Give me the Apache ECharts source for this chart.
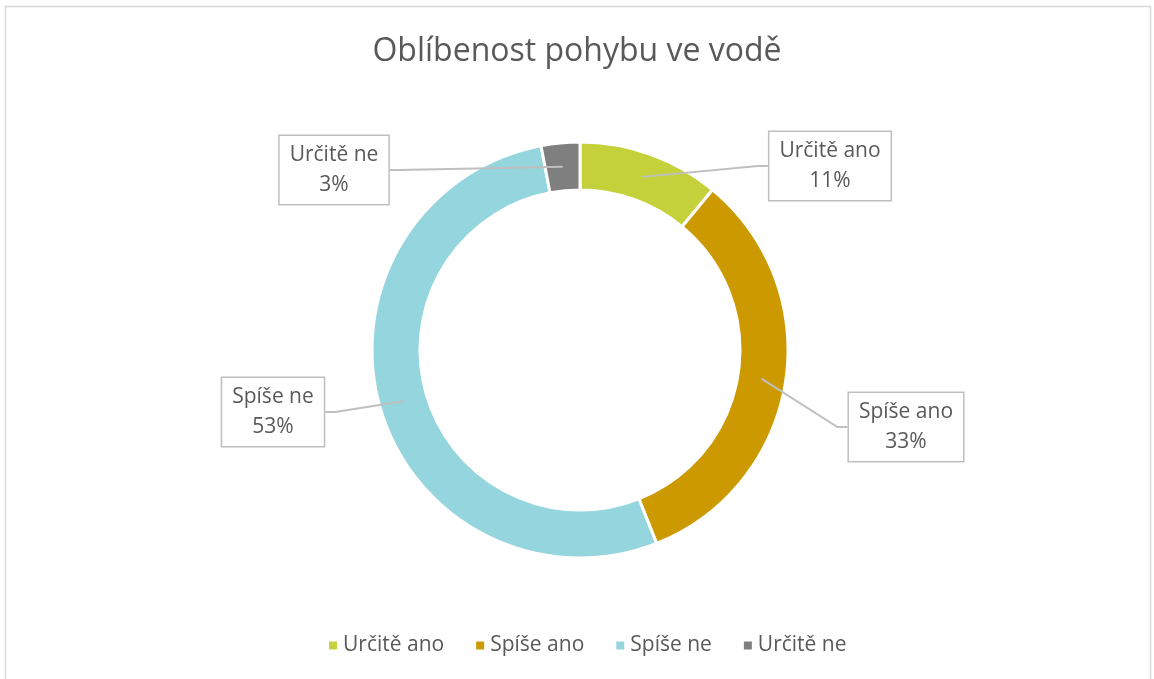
<!DOCTYPE html>
<html>
<head>
<meta charset="utf-8">
<script src="https://cdn.jsdelivr.net/npm/echarts@6/dist/echarts.min.js"></script>
<style>
  html, body { margin: 0; padding: 0; background: #fff; }
  #main { width: 1154px; height: 679px; }
</style>
</head>
<body>
<div id="main"></div>
<script>
var title = 'Oblíbenost pohybu ve vodě';
var categories = ['Určitě ano', 'Spíše ano', 'Spíše ne', 'Určitě ne'];
var shares = [11, 33, 53, 3];
var colors = ['#C4D13B', '#CC9A00', '#95D5DE', '#7F7F7F'];

init()

function init() {
    var myChart = echarts.init(document.getElementById('main'));
    // where each callout box sits
    var boxPos = [[830, 166], [906, 427], [273, 412], [334, 170]];
    var data = categories.map(function(name, i) {
        return { name: name, value: shares[i], itemStyle: { color: colors[i] } };
    });
    // same slices, transparent, only used so the callout lines start inside the ring
    var ghost = categories.map(function(name, i) {
        return { name: name, value: shares[i], itemStyle: { color: 'rgba(0,0,0,0)' } };
    });
    var option = {
        animation: false,
        graphic: [{
            type: 'rect',
            shape: { x: 5.5, y: 6.5, width: 1145, height: 700 },
            style: { fill: 'none', stroke: '#D9D9D9', lineWidth: 1.5 },
            silent: true
        }],
        title: {
            text: title,
            left: 'center',
            top: 31,
            textStyle: { fontFamily: 'Open Sans', fontWeight: 'normal', fontSize: 32, color: '#595959' }
        },
        legend: {
            bottom: 18,
            left: 322,
            icon: 'rect',
            itemWidth: 10,
            itemHeight: 10,
            itemGap: 30,
            textStyle: { fontFamily: 'Open Sans', fontSize: 21, color: '#595959' },
            data: categories
        },
        series: [{
            type: 'pie',
            z: 2,
            center: [580, 350],
            radius: [160, 208],
            startAngle: 90,
            clockwise: true,
            itemStyle: { borderColor: '#fff', borderWidth: 3 },
            label: { show: false },
            labelLine: { show: false },
            data: data
        }, {
            type: 'pie',
            z: 5,
            center: [580, 350],
            radius: [160, 184],
            startAngle: 90,
            clockwise: true,
            silent: true,
            legendHoverLink: false,
            label: {
                show: true,
                formatter: function(p) { return p.name + '\n' + p.value + '%'; },
                fontFamily: 'Open Sans',
                fontSize: 21,
                lineHeight: 30,
                color: '#595959',
                backgroundColor: '#fff',
                borderColor: '#BFBFBF',
                borderWidth: 1.5,
                padding: [4, 10]
            },
            labelLine: {
                show: true,
                length: 20,
                length2: 10,
                lineStyle: { color: '#BFBFBF', width: 2 }
            },
            labelLayout: function(params) {
                var p = boxPos[params.dataIndex];
                return { x: p[0], y: p[1], align: 'center', verticalAlign: 'middle' };
            },
            data: ghost
        }]
    };
    myChart.setOption(option);
}
</script>
</body>
</html>
